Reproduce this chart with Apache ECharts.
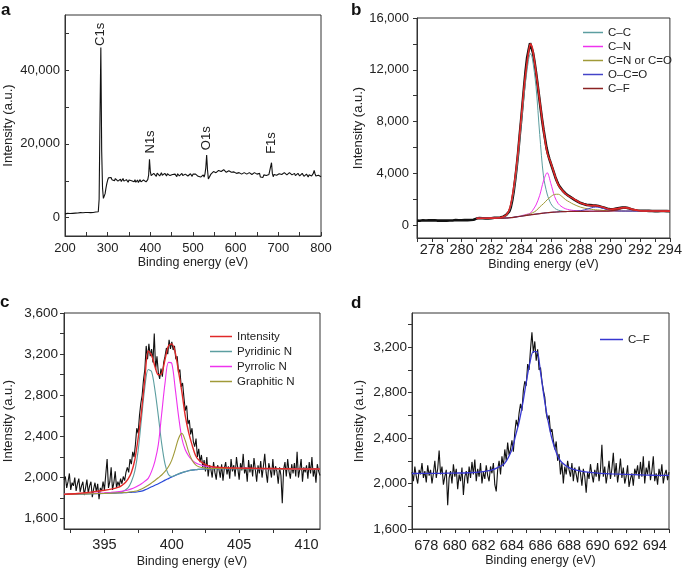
<!DOCTYPE html>
<html><head><meta charset="utf-8">
<script src="https://cdn.jsdelivr.net/npm/echarts@6/dist/echarts.min.js"></script>
<style>html,body{margin:0;padding:0;background:#fff}#c{width:685px;height:572px}</style>
</head><body><div id="c"></div>
<script>
// ---------- Panel a : survey spectrum (2 eV sampling from 200 eV) ----------
const surveyStart = 200, surveyStep = 2;
const surveyIntensity = [
 1000,1100,1050,1150,1100,1200,1100,1150,1250,1150,
 1200,1300,1200,1250,1350,1250,1300,1250,1350,1300,
 1400,1300,1350,1250,1400,1350,1300,1400,1350,1450,
 1350,1400,1500,1400,1450,1400,1500,1450,1500,1600,
 5000,27000,46200,18000,8000,5200,5600,6500,8000,9200,
 10200,10800,11200,10600,10900,10300,10700,10400,10000,10600,
 10200,10500,9900,10300,10000,10400,9800,10200,10600,9900,
 10100,9700,10300,10000,9600,10200,10500,9800,10000,9500,
 10100,9700,10300,9600,9900,10200,9500,9900,10300,9700,
 10000,9600,10200,9800,10100,9700,10000,10300,11500,15800,
 12500,11400,11900,11300,12000,11500,11800,11200,12100,11600,
 11900,11300,11800,12200,11500,11900,11400,12000,11600,11300,
 11900,11500,12100,11400,11800,11200,11700,12000,11400,11800,
 11500,11100,11900,11600,11300,11800,11500,12000,11400,11700,
 11200,11800,11500,11900,11300,11700,11400,11900,11500,11200,
 11800,11500,11300,11800,11400,11600,11200,11700,11400,11000,
 11500,11300,11600,11000,11800,13500,17000,13000,10500,10000,
 11000,11800,12300,11900,12500,12100,12600,12200,12700,12300,
 12800,12400,12900,12500,12800,12400,13000,12600,12900,12300,
 12800,12500,12700,12200,12600,12300,12500,12000,12400,12100,
 12500,12000,12300,11800,12200,11900,12300,11800,12100,11700,
 12200,11900,12300,11800,12100,11600,12200,11900,12300,11700,
 12000,11800,12200,11700,12100,11800,12300,11400,12000,11000,
 10700,11300,10900,11600,11100,11800,11400,11900,11300,11700,
 11200,11800,14900,12000,11100,11700,11400,11900,11500,12000,
 11600,11900,11400,12100,11700,12000,11500,12200,11800,12100,
 11600,12000,11500,12200,11800,12000,11600,12100,11700,12000,
 11400,11900,11500,12000,11600,11300,11800,11400,12000,11500,
 11200,11700,11300,11800,11400,11000,11600,11200,11700,11300,
 11600,12000,12800,11900,11300,11600,11100,11500,11000,11400,
 11100
];
const peakNames = ['C1s','N1s','O1s','F1s'];
const peakLabelE = [282.5, 401, 532, 684];
const peakLabelI = [46600, 17400, 18300, 17300];
const aTicksX = [200,250,300,350,400,450,500,550,600,650,700,750,800];
const aLabelsX = [200,300,400,500,600,700,800];
const aTicksY = [0,10000,20000,30000,40000,50000];
const aLabelsY = [0,20000,40000];

// ---------- Panel b : C1s ----------
const rawBStart = 277, rawBStep = 0.1;
const rawB = [
 340,360,330,350,370,340,355,330,365,345,
 360,335,370,350,340,365,345,375,350,360,
 340,370,355,380,350,365,385,360,375,390,
 370,395,380,400,385,410,395,420,405,430,
 500,520,540,510,530,545,515,535,520,550,
 530,545,560,535,570,560,590,610,650,700,
 780,880,1050,1350,1900,2600,3500,4500,5600,6900,
 8100,9400,10700,11900,12900,13500,14050,13900,13300,12600,
 11800,10900,10000,9100,8200,7400,6700,6000,5500,5100,
 4750,4400,4050,3700,3400,3150,2950,2800,2650,2550,
 2420,2350,2250,2200,2100,2050,1950,1900,1820,1760,
 1700,1680,1620,1580,1560,1520,1540,1500,1520,1490,
 1510,1480,1470,1430,1400,1370,1330,1290,1260,1240,
 1220,1230,1215,1250,1270,1290,1310,1340,1350,1370,
 1350,1340,1310,1280,1230,1200,1170,1150,1130,1120,
 1110,1100,1105,1090,1100,1085,1095,1080,1090,1085,
 1075,1090,1080,1070,1085,1075,1090,1070,1080,1075,
 1070
];
const fitGridB = [281,281.5,282,282.5,282.75,283,283.25,283.5,283.75,284,284.25,284.5,284.625,284.75,285,285.25,285.5,285.75,286,286.25,286.5,286.75,287,287.25,287.5,288,288.5,288.75,289,289.25,289.5,290,290.5,290.75,291,291.25,291.5,292,292.5,293,293.5,294];
const envelopeB = [520,525,535,560,620,780,1350,2900,5200,8200,11200,13400,14000,13700,11800,9600,7400,5600,4800,3900,3100,2700,2400,2200,2050,1700,1530,1500,1500,1460,1370,1220,1280,1340,1350,1310,1210,1110,1090,1085,1080,1080];
const ccB  = [520,520,530,545,600,750,1250,2600,4800,7700,10600,12800,13250,12900,10700,7000,3800,2400,1650,1300,1150,1080,1050,1045,1050,1060,1065,1068,1070,1072,1074,1078,1080,1080,1080,1080,1080,1080,1080,1080,1080,1080];
const cnB  = [520,520,525,535,540,550,570,600,650,720,790,870,930,1100,1550,2300,3400,4050,3200,2200,1650,1400,1250,1180,1130,1090,1075,1072,1070,1072,1074,1078,1080,1080,1080,1080,1080,1080,1080,1080,1080,1080];
const coB  = [520,520,525,535,540,550,570,600,650,700,760,830,880,940,1100,1400,1650,1950,2200,2370,2380,2200,1950,1780,1620,1380,1250,1210,1180,1160,1130,1100,1090,1088,1085,1084,1083,1082,1081,1080,1080,1080];
const ocoB = [520,520,525,530,535,545,570,600,640,680,725,770,790,810,850,885,920,950,980,1000,1020,1035,1045,1052,1060,1110,1250,1340,1390,1370,1290,1150,1095,1085,1082,1080,1080,1080,1080,1080,1080,1080];
const cfB  = [520,520,525,530,535,545,570,600,640,680,725,770,790,810,850,885,920,950,980,1000,1020,1035,1045,1052,1055,1060,1065,1067,1070,1072,1075,1100,1180,1260,1300,1260,1170,1095,1083,1080,1080,1080];
const bTicksX = [277,278,279,280,281,282,283,284,285,286,287,288,289,290,291,292,293,294];
const bLabelsX = [278,280,282,284,286,288,290,292,294];
const bTicksY = [0,2000,4000,6000,8000,10000,12000,14000,16000];
const bLabelsY = [0,4000,8000,12000,16000];

// ---------- Panel c : N1s ----------
const rawCStart = 392, rawCStep = 0.1;
const rawC = [
 1980,2010,1900,1960,2040,1880,1950,1920,2000,1870,
 1940,1990,1860,1920,1960,1830,1900,1980,1850,1920,
 1960,1810,1890,1950,1860,1940,1790,1900,1870,1960,
 1880,2030,2180,1900,1960,2100,1880,1950,2060,1900,
 1960,1920,1990,1940,2010,1970,2050,2100,2050,2180,
 2130,2250,2200,2320,2480,2430,2600,2720,2800,2950,
 3050,3280,3150,3300,3180,3250,3120,3400,3050,3180,
 3020,2960,3060,2980,3120,3180,3260,3200,3340,3250,
 3320,3240,3280,3150,3180,3020,3050,2880,2920,2780,
 2650,2700,2520,2560,2420,2480,2350,2300,2380,2200,
 2280,2150,2220,2100,2170,2060,2200,2010,2120,2080,
 2000,2150,2050,1980,2120,2080,2000,2130,1970,2090,
 2150,2030,2110,1990,2180,2060,2120,2010,2200,2090,
 1980,2140,2070,2230,2040,2100,1960,2170,2050,2130,
 2010,2190,2080,1960,2120,2040,2160,2000,2110,2230,
 2050,1950,2140,2080,2000,2180,2020,2110,2060,1940,
 2100,2020,1750,2080,2150,2010,2180,2060,1990,2130,
 2040,2140,2010,2250,2000,2080,2180,1960,2100,2050,
 2120,1990,2150,2040,2200,2010,2090,1950,2130,2060,
 2020
];
const fitGridC = [392,393,394,395,395.5,396,396.25,396.5,396.75,397,397.25,397.5,397.75,398,398.25,398.5,398.75,399,399.25,399.5,399.75,400,400.25,400.5,400.75,401,401.25,401.5,401.75,402,402.5,403,404,405,406,407,408,409,410,411];
const envelopeC   = [1837,1845,1859,1877,1888,1905,1920,1945,1985,2050,2170,2380,2640,2960,3230,3190,3080,3000,3010,3150,3280,3300,3220,3030,2830,2600,2440,2320,2220,2170,2125,2105,2095,2092,2090,2088,2087,2085,2084,2083];
const baselineC   = [1837,1840,1843,1846,1848,1850,1851,1853,1855,1857,1859,1862,1868,1880,1894,1910,1925,1940,1957,1975,1990,2005,2020,2035,2047,2058,2066,2072,2077,2080,2085,2087,2087,2087,2086,2086,2085,2084,2084,2083];
const pyridinicC  = [1837,1840,1843,1847,1850,1856,1862,1875,1900,1960,2060,2260,2570,2880,3050,3030,2850,2600,2330,2130,2030,2010,2022,2036,2048,2058,2066,2072,2077,2080,2085,2087,2087,2087,2086,2086,2085,2084,2084,2083];
const pyrrolicC   = [1837,1842,1847,1853,1857,1862,1866,1872,1880,1890,1903,1920,1940,1965,1992,2060,2160,2320,2620,2920,3120,3110,2870,2600,2380,2270,2210,2170,2145,2130,2110,2100,2092,2090,2088,2087,2086,2085,2084,2083];
const graphiticC  = [1837,1840,1843,1846,1848,1851,1853,1855,1858,1862,1867,1875,1888,1905,1925,1948,1972,1998,2025,2060,2105,2170,2270,2380,2430,2360,2250,2170,2125,2105,2092,2089,2088,2087,2086,2086,2085,2084,2084,2083];
const cTicksX = [392.5,395,397.5,400,402.5,405,407.5,410];
const cLabelsX = [395,400,405,410];
const cTicksY = [1600,1800,2000,2200,2400,2600,2800,3000,3200,3400,3600];
const cLabelsY = [1600,2000,2400,2800,3200,3600];

// ---------- Panel d : F1s ----------
const rawDStart = 677, rawDStep = 0.1;
const rawD = [
 2100,2020,2150,2060,2000,2120,2080,2180,2050,2110,
 2010,2160,2070,2120,2000,2090,2200,2050,2130,2290,
 2080,2150,1990,2060,2120,1810,2050,2110,2000,2170,
 2060,2130,1950,2080,2020,2140,1900,2060,2110,2000,
 2150,2050,2190,2080,2210,2020,2130,2060,2180,2000,
 2100,2040,2160,2070,2020,2150,2090,2180,1990,1930,
 2120,2200,2080,2240,2150,2300,2200,2360,2250,2300,
 2380,2280,2450,2560,2500,2620,2700,2640,2820,2900,
 2860,3050,3000,3180,3330,3150,3250,3080,3180,3000,
 3020,2900,2820,2760,2620,2560,2600,2450,2480,2380,
 2300,2370,2200,2260,2080,2180,2000,2150,2080,2200,
 2120,2060,2180,2020,2140,2080,2010,2150,2090,1980,
 2130,2060,1920,2100,2040,2170,2080,2010,2120,2060,
 2180,2020,2120,2340,2060,2150,2000,2090,2200,2040,
 2130,2270,2060,2180,2010,2100,2220,2050,2140,2000,
 2060,2160,1970,2040,2090,1980,2130,2080,2160,2040,
 2190,2060,2240,2000,2140,2080,2200,2030,2110,2240,
 2020,2090,1990,2130,2060,2170,2000,2080,2120,2030,
 2100
];
const fitGridD = [677,678,679,680,681,682,682.5,683,683.5,684,684.25,684.5,684.75,685,685.25,685.5,685.75,686,686.25,686.5,686.75,687,687.25,687.5,688,688.5,689,690,691,692,693,694,695];
const cfD = [2088,2089,2090,2092,2095,2105,2115,2140,2180,2300,2420,2540,2700,2890,3060,3160,3160,2980,2760,2570,2420,2310,2230,2185,2140,2118,2105,2092,2085,2080,2076,2073,2071];
const dTicksX = [677,678,679,680,681,682,683,684,685,686,687,688,689,690,691,692,693,694,695];
const dLabelsX = [678,680,682,684,686,688,690,692,694];
const dTicksY = [1600,1800,2000,2200,2400,2600,2800,3000,3200,3400];
const dLabelsY = [1600,2000,2400,2800,3200];

// ---------- rendering ----------
const FONT = 'Liberation Sans, Arial, Helvetica, sans-serif';
const AX = '#333';
const TXT = '#222';
const COL = {
  teal: '#5c9ea0', magenta: '#ee33ee', olive: '#a09a38', blueB: '#4444c8',
  maroon: '#8b2323', red: '#e02828', blueC: '#2848d8', blueD: '#3636d0', black: '#111'
};
function sampleGrid(start, step, n) { return Array.from({length: n}, (_, i) => +(start + i * step).toFixed(3)); }
function pairs(xs, ys) { return ys.map((y, i) => [xs[i], y]); }
const fmt = v => Number(v).toLocaleString('en-US');

function series(gi, name, xs, ys, color, width, smooth) {
  return { type: 'line', name, xAxisIndex: gi, yAxisIndex: gi, data: pairs(xs, ys),
    symbol: 'none', showSymbol: false, smooth: smooth || false, silent: true,
    lineStyle: { color, width }, itemStyle: { color }, animation: false };
}
function xAxis(gi, min, max, ticks, labels, inside, margin, nameGap, labelSize) {
  return { type: 'value', gridIndex: gi, min, max, name: 'Binding energy (eV)', nameLocation: 'middle', nameGap,
    nameTextStyle: { fontSize: 12.5, color: TXT, fontFamily: FONT },
    axisLine: { show: true, onZero: false, lineStyle: { color: AX, width: 1 } },
    axisTick: { show: true, inside, length: 4, customValues: ticks, lineStyle: { color: AX, width: 1 } },
    axisLabel: { customValues: labels, formatter: fmt, margin, fontSize: labelSize, color: TXT, fontFamily: FONT },
    splitLine: { show: false } };
}
function yAxis(gi, min, max, ticks, labels, inside, margin, nameGap, labelSize) {
  return { type: 'value', gridIndex: gi, min, max, name: 'Intensity (a.u.)', nameLocation: 'middle', nameGap,
    nameTextStyle: { fontSize: 13, color: TXT, fontFamily: FONT },
    axisLine: { show: true, onZero: false, lineStyle: { color: AX, width: 1 } },
    axisTick: { show: true, inside, length: 4, customValues: ticks, lineStyle: { color: AX, width: 1 } },
    axisLabel: { customValues: labels, formatter: fmt, margin, fontSize: labelSize, color: TXT, fontFamily: FONT },
    splitLine: { show: false } };
}
const gridStyle = { show: true, borderColor: AX, borderWidth: 1, containLabel: false };

const surveyE = sampleGrid(surveyStart, surveyStep, surveyIntensity.length);
const rawBE = sampleGrid(rawBStart, rawBStep, rawB.length);
const rawCE = sampleGrid(rawCStart, rawCStep, rawC.length);
const rawDE = sampleGrid(rawDStart, rawDStep, rawD.length);

const legendText = { fontSize: 11.5, color: TXT, fontFamily: FONT };

const option = {
  animation: false,
  backgroundColor: '#fff',
  grid: [
    Object.assign({ left: 65, top: 15, width: 256, height: 221 }, gridStyle),
    Object.assign({ left: 417, top: 18, width: 257, height: 220 }, gridStyle),
    Object.assign({ left: 64, top: 313, width: 256, height: 216 }, gridStyle),
    Object.assign({ left: 412, top: 313, width: 257, height: 216 }, gridStyle)
  ],
  xAxis: [
    xAxis(0, 200, 800, aTicksX, aLabelsX, true, 6, 15, 13),
    xAxis(1, 277, 294, bTicksX, bLabelsX, false, 4, 17, 14.5),
    xAxis(2, 392, 411, cTicksX, cLabelsX, false, 8, 26, 14.5),
    xAxis(3, 677, 695, dTicksX, dLabelsX, false, 9, 24, 14.5)
  ],
  yAxis: [
    yAxis(0, -5000, 55000, aTicksY, aLabelsY, true, 5, 50, 13),
    yAxis(1, -1000, 16000, bTicksY, bLabelsY, false, 8, 51, 13),
    yAxis(2, 1500, 3600, cTicksY, cLabelsY, false, 6, 49, 13.5),
    yAxis(3, 1600, 3500, dTicksY, dLabelsY, false, 5, 46, 13.5)
  ],
  legend: [
    { orient: 'vertical', left: 583, top: 26, padding: 0, icon: 'rect', itemWidth: 20, itemHeight: 1.5, itemGap: 1,
      selectedMode: false, textStyle: Object.assign({ lineHeight: 13 }, legendText),
      data: [
        { name: 'C–C', itemStyle: { color: COL.teal } },
        { name: 'C–N', itemStyle: { color: COL.magenta } },
        { name: 'C=N or C=O', itemStyle: { color: COL.olive } },
        { name: 'O–C=O', itemStyle: { color: COL.blueB } },
        { name: 'C–F', itemStyle: { color: COL.maroon } }
      ] },
    { orient: 'vertical', left: 210, top: 330, padding: 0, icon: 'rect', itemWidth: 22, itemHeight: 1.5, itemGap: 2,
      selectedMode: false, textStyle: Object.assign({ lineHeight: 13 }, legendText),
      data: [
        { name: 'Intensity', itemStyle: { color: COL.red } },
        { name: 'Pyridinic N', itemStyle: { color: COL.teal } },
        { name: 'Pyrrolic N', itemStyle: { color: COL.magenta } },
        { name: 'Graphitic N', itemStyle: { color: COL.olive } }
      ] },
    { orient: 'vertical', left: 600, top: 333, padding: 0, icon: 'rect', itemWidth: 23, itemHeight: 1.5,
      selectedMode: false, textStyle: Object.assign({ lineHeight: 13 }, legendText),
      data: [ { name: 'C–F ', itemStyle: { color: COL.blueD } } ] }
  ],
  series: [
    series(0, 'Survey', surveyE, surveyIntensity, COL.black, 1.1),

    series(1, 'Raw C1s', rawBE, rawB, COL.black, 2.6),
    series(1, 'C–C', fitGridB, ccB, COL.teal, 1, 0.3),
    series(1, 'C–N', fitGridB, cnB, COL.magenta, 1, 0.3),
    series(1, 'C=N or C=O', fitGridB, coB, COL.olive, 1, 0.3),
    series(1, 'O–C=O', fitGridB, ocoB, COL.blueB, 1, 0.3),
    series(1, 'C–F', fitGridB, cfB, COL.maroon, 1.2, 0.3),
    series(1, 'Envelope C1s', fitGridB, envelopeB, COL.red, 1.6, 0.3),

    series(2, 'Raw N1s', rawCE, rawC, COL.black, 1.1),
    series(2, 'Background N1s', fitGridC, baselineC, COL.blueC, 1.2, 0.3),
    series(2, 'Pyridinic N', fitGridC, pyridinicC, COL.teal, 1.1, 0.3),
    series(2, 'Pyrrolic N', fitGridC, pyrrolicC, COL.magenta, 1.1, 0.3),
    series(2, 'Graphitic N', fitGridC, graphiticC, COL.olive, 1.1, 0.3),
    series(2, 'Intensity', fitGridC, envelopeC, COL.red, 1.4, 0.3),

    series(3, 'Raw F1s', rawDE, rawD, COL.black, 1.1),
    series(3, 'C–F ', fitGridD, cfD, COL.blueD, 1.3, 0.3)
  ]
};

const chart = echarts.init(document.getElementById('c'), null, { renderer: 'canvas' });
chart.setOption(option);

// panel letters and peak annotations
const graphics = [
  { type: 'text', left: 1, top: 2, style: { text: 'a', font: 'bold 17px ' + FONT, fill: '#111' } },
  { type: 'text', left: 351, top: 2, style: { text: 'b', font: 'bold 17px ' + FONT, fill: '#111' } },
  { type: 'text', left: 0, top: 294, style: { text: 'c', font: 'bold 17px ' + FONT, fill: '#111' } },
  { type: 'text', left: 351, top: 295, style: { text: 'd', font: 'bold 17px ' + FONT, fill: '#111' } }
];
peakNames.forEach((name, i) => {
  const p = chart.convertToPixel({ gridIndex: 0 }, [peakLabelE[i], peakLabelI[i]]);
  graphics.push({ type: 'text', x: p[0], y: p[1], rotation: Math.PI / 2,
    style: { text: name, font: '13px ' + FONT, fill: TXT, align: 'left', verticalAlign: 'middle',
             textAlign: 'left', textVerticalAlign: 'middle' } });
});
chart.setOption({ graphic: graphics });
</script></body></html>
